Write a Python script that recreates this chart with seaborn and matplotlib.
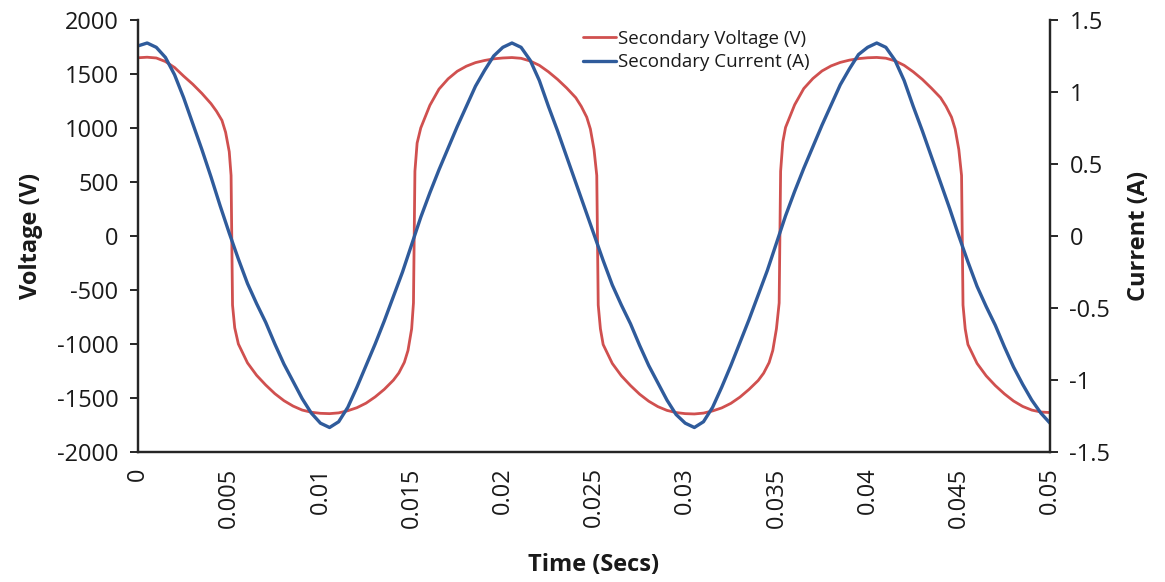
import numpy as np
import pandas as pd
import seaborn as sns
import matplotlib.pyplot as plt

# Secondary voltage (time in ms, volts)
volt_t_ms = [0, 0.5, 1, 1.5, 2, 2.5, 3, 3.5, 4, 4.3, 4.6, 4.8, 5.0, 5.1,
             5.18, 5.3, 5.5, 6, 6.5, 7, 7.5, 8, 8.5, 9, 9.5, 10, 10.5, 11, 11.5,
             12, 12.5, 13, 13.5, 14, 14.3, 14.6, 14.8, 15.0, 15.1,
             15.18, 15.3, 15.5, 16, 16.5, 17, 17.5, 18, 18.5, 19, 19.5,
             20, 20.5, 21, 21.5, 22, 22.5, 23, 23.5, 24, 24.3, 24.6, 24.8, 25.0, 25.15,
             25.23, 25.35, 25.5, 26, 26.5, 27, 27.5, 28, 28.5, 29, 29.5, 30, 30.5, 31, 31.5,
             32, 32.5, 33, 33.5, 34, 34.3, 34.6, 34.8, 35.0, 35.15,
             35.23, 35.35, 35.5, 36, 36.5, 37, 37.5, 38, 38.5, 39, 39.5,
             40, 40.5, 41, 41.5, 42, 42.5, 43, 43.5, 44, 44.3, 44.6, 44.8, 45.0, 45.15,
             45.23, 45.35, 45.5, 46, 46.5, 47, 47.5, 48, 48.5, 49, 49.5, 50]
volt_v = [1650, 1655, 1648, 1615, 1560, 1480, 1405, 1320, 1225, 1155, 1070, 960, 780, 560,
          -640, -850, -1000, -1175, -1290, -1380, -1460, -1525, -1575, -1612, -1632, -1642, -1645, -1638, -1618,
          -1590, -1548, -1490, -1420, -1335, -1268, -1170, -1060, -860, -620,
          600, 860, 1000, 1210, 1360, 1455, 1525, 1572, 1605, 1625, 1640,
          1648, 1652, 1645, 1620, 1580, 1520, 1450, 1370, 1280, 1200, 1100, 990, 800, 560,
          -640, -860, -1005, -1180, -1295, -1385, -1465, -1530, -1580, -1615, -1635, -1645, -1648, -1640, -1620,
          -1592, -1550, -1492, -1420, -1338, -1270, -1172, -1060, -860, -620,
          600, 870, 1005, 1215, 1365, 1458, 1528, 1575, 1607, 1628, 1642,
          1650, 1653, 1646, 1622, 1580, 1520, 1450, 1368, 1280, 1200, 1100, 990, 800, 560,
          -640, -860, -1005, -1180, -1295, -1385, -1462, -1528, -1578, -1612, -1630, -1635]

# Secondary current, sampled every 0.5 ms (amps)
curr_t_ms = [0, 0.5, 1, 1.5, 2, 2.5, 3, 3.5, 4, 4.5, 5, 5.5, 6, 6.5, 7, 7.5, 8, 8.5, 9, 9.5,
             10, 10.5, 11, 11.5, 12, 12.5, 13, 13.5, 14, 14.5, 15, 15.5, 16, 16.5, 17, 17.5, 18, 18.5, 19, 19.5,
             20, 20.5, 21, 21.5, 22, 22.5, 23, 23.5, 24, 24.5, 25, 25.5, 26, 26.5, 27, 27.5, 28, 28.5, 29, 29.5,
             30, 30.5, 31, 31.5, 32, 32.5, 33, 33.5, 34, 34.5, 35, 35.5, 36, 36.5, 37, 37.5, 38, 38.5, 39, 39.5,
             40, 40.5, 41, 41.5, 42, 42.5, 43, 43.5, 44, 44.5, 45, 45.5, 46, 46.5, 47, 47.5, 48, 48.5, 49, 49.5, 50]
curr_a = [1.32, 1.34, 1.31, 1.24, 1.12, 0.96, 0.78, 0.60, 0.41, 0.21, 0.02, -0.16, -0.33, -0.47, -0.60, -0.75, -0.89, -1.01, -1.13, -1.23,
          -1.30, -1.33, -1.29, -1.19, -1.05, -0.90, -0.75, -0.59, -0.42, -0.25, -0.06, 0.13, 0.30, 0.46, 0.61, 0.76, 0.90, 1.04, 1.15, 1.25,
          1.31, 1.34, 1.31, 1.22, 1.08, 0.90, 0.73, 0.55, 0.37, 0.19, 0.01, -0.17, -0.34, -0.48, -0.61, -0.76, -0.90, -1.02, -1.14, -1.24,
          -1.30, -1.33, -1.29, -1.19, -1.05, -0.90, -0.74, -0.58, -0.41, -0.24, -0.05, 0.14, 0.31, 0.47, 0.62, 0.77, 0.91, 1.05, 1.16, 1.26,
          1.31, 1.34, 1.31, 1.22, 1.08, 0.90, 0.73, 0.55, 0.37, 0.19, 0.00, -0.18, -0.35, -0.49, -0.62, -0.77, -0.91, -1.03, -1.14, -1.23, -1.30]

x_ticks = [0, 0.005, 0.01, 0.015, 0.02, 0.025, 0.03, 0.035, 0.04, 0.045, 0.05]
x_labels = ['0', '0.005', '0.01', '0.015', '0.02', '0.025', '0.03', '0.035', '0.04', '0.045', '0.05']
v_ticks = [-2000, -1500, -1000, -500, 0, 500, 1000, 1500, 2000]
a_ticks = [-1.5, -1, -0.5, 0, 0.5, 1, 1.5]
a_labels = ['-1.5', '-1', '-0.5', '0', '0.5', '1', '1.5']

red = '#D0504F'
blue = '#2F5B9B'
spine_col = '#262626'
txt_col = '#1a1a1a'

sns.set_style("white")
plt.rcParams['font.family'] = ['Open Sans', 'DejaVu Sans']
plt.rcParams['axes.unicode_minus'] = False

volt_df = pd.DataFrame({'Time': np.array(volt_t_ms) / 1000, 'Voltage': volt_v})
curr_df = pd.DataFrame({'Time': np.array(curr_t_ms) / 1000, 'Current': curr_a})

fig = plt.figure(figsize=(11.65, 5.82), dpi=100)
ax = fig.add_axes([0.1185, 0.2234, 0.7828, 0.7423])
ax2 = ax.twinx()

sns.lineplot(data=volt_df, x='Time', y='Voltage', ax=ax, color=red, lw=2,
             sort=False, label='Secondary Voltage (V)', legend=False)
sns.lineplot(data=curr_df, x='Time', y='Current', ax=ax2, color=blue, lw=2.4,
             sort=False, label='Secondary Current (A)', legend=False)

ax.set_xlim(0, 0.05)
ax.set_ylim(-2000, 2000)
ax2.set_ylim(-1.5, 1.5)

ax.set_xticks(x_ticks)
ax.set_xticklabels(x_labels, rotation=90)
ax.set_yticks(v_ticks)
ax.set_yticklabels([str(v) for v in v_ticks])
ax2.set_yticks(a_ticks)
ax2.set_yticklabels(a_labels)

for a in (ax, ax2):
    a.spines['top'].set_visible(False)
    for s in ('left', 'right', 'bottom'):
        a.spines[s].set_color(spine_col)
        a.spines[s].set_linewidth(1.6)
    a.grid(False)

ax.tick_params(axis='y', direction='out', length=6, width=1.4, color=spine_col,
               labelsize=17, labelcolor=txt_col, pad=8)
ax.tick_params(axis='x', direction='inout', length=10, width=1.4, color=spine_col,
               labelsize=17, labelcolor=txt_col, pad=6)
ax2.tick_params(axis='y', direction='out', length=6, width=1.4, color=spine_col,
                labelsize=17, labelcolor=txt_col, pad=8)

ax.set_xlabel('Time (Secs)', fontsize=17, fontweight='bold', color=txt_col, labelpad=18)
ax.set_ylabel('Voltage (V)', fontsize=17, fontweight='bold', color=txt_col, labelpad=10)
ax2.set_ylabel('Current (A)', fontsize=17, fontweight='bold', color=txt_col, labelpad=12)

h1, l1 = ax.get_legend_handles_labels()
h2, l2 = ax2.get_legend_handles_labels()
fig.legend(h1 + h2, l1 + l2, loc='upper left', bbox_to_anchor=(0.494, 0.962),
           frameon=False, fontsize=13.5, handlelength=1.75, handletextpad=0.1,
           labelspacing=0.3, borderaxespad=0, labelcolor=txt_col)

fig.savefig('out.png', dpi=100)
